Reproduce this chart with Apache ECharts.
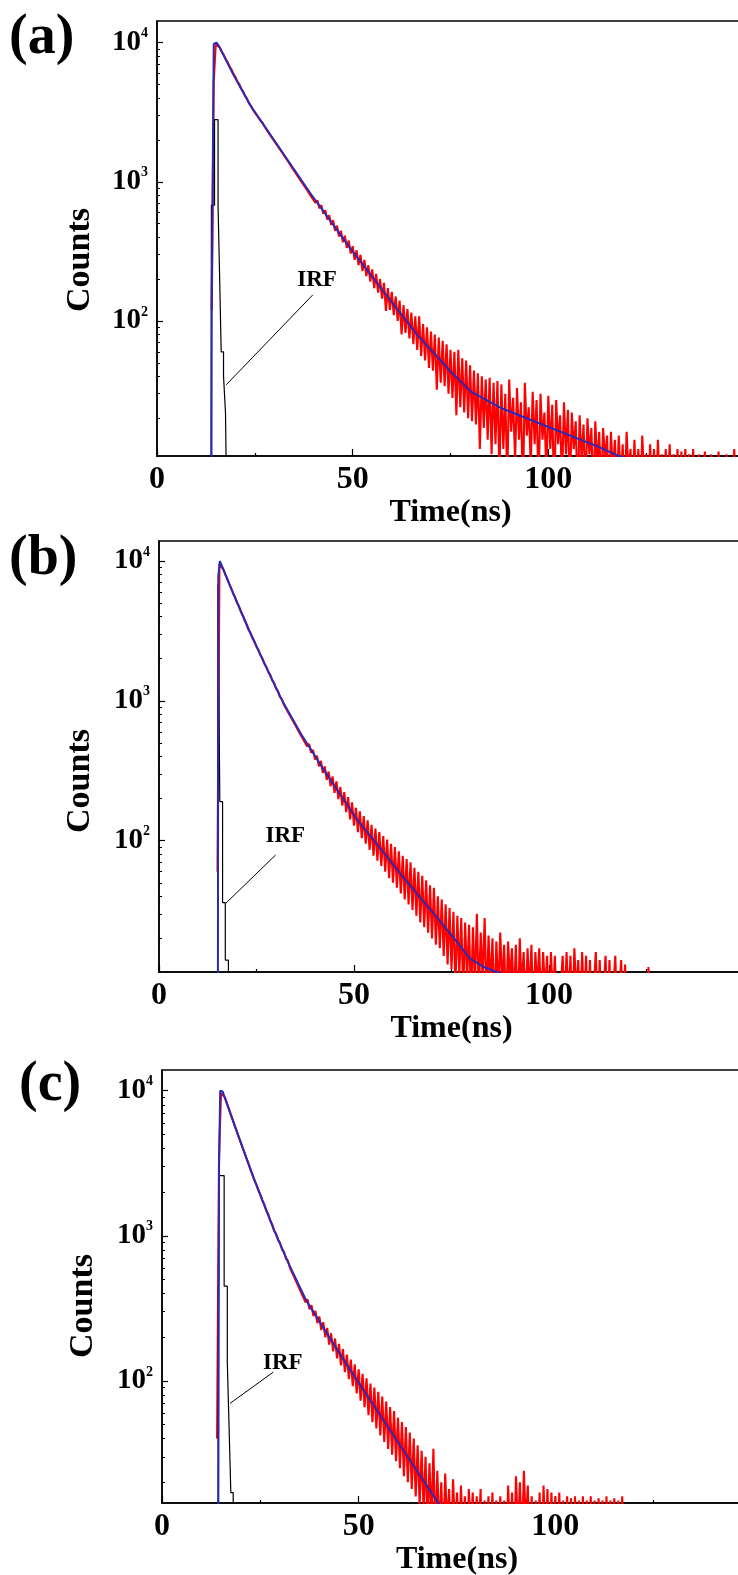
<!DOCTYPE html>
<html>
<head>
<meta charset="utf-8">
<script src="https://cdn.jsdelivr.net/npm/echarts@6/dist/echarts.min.js"></script>
<style>
html,body{margin:0;padding:0;background:#fff;}
#chart{width:738px;height:1575px;}
</style>
</head>
<body>
<div id="chart"></div>
<script>
// ---------------- data ----------------
const panelLabels = ['(a)', '(b)', '(c)'];
const xAxisTitle = 'Time(ns)';
const yAxisTitle = 'Counts';
const irfText = 'IRF';
const xLabelValues = [0, 50, 100];
const yMajorTicks = [100, 1000, 10000];
const yMinorTicks = [20, 30, 40, 50, 60, 70, 80, 90, 200, 300, 400, 500, 600, 700, 800, 900,
                     2000, 3000, 4000, 5000, 6000, 7000, 8000, 9000];

// measured decay (red): one value per 0.5 ns channel
const redStep = 0.5;
const redStartA = 14.0;
const redA = [
  120, 5200, 9700, 9900, 9300, 8650, 8240, 7680, 7300, 6790,   // 14.0
  6450, 6010, 5700, 5300, 5050, 4690, 4470, 4150, 3960, 3680,  // 19.0
  3530, 3300, 3210, 3010, 2920, 2740, 2650, 2490, 2420, 2260,  // 24.0
  2200, 2050, 2000, 1870, 1825, 1700, 1660, 1540, 1510, 1400,  // 29.0
  1380, 1265, 1260, 1150, 1150, 1040, 1050, 945, 955, 860,     // 34.0
  875, 775, 800, 705, 735, 645, 680, 590, 625, 535,            // 39.0
  575, 490, 530, 445, 485, 405, 445, 368, 410, 335,            // 44.0
  378, 305, 345, 275, 322, 252, 298, 228, 275, 210,            // 49.0
  252, 192, 235, 172, 218, 160, 200, 145, 188, 118,            // 54.0
  172, 120, 162, 110, 150, 100, 140, 80, 130, 82,              // 59.0
  122, 75, 115, 68, 108, 62, 108, 56, 95, 52,                  // 64.0
  90, 46, 84, 44, 80, 32, 76, 36, 72, 34,                      // 69.0
  68, 30, 62, 28, 60, 21, 62, 24, 54, 22,                      // 74.0
  52, 20, 48, 19, 44, 18, 42, 12, 40, 17,                      // 79.0
  38, 14, 39, 11, 36, 13, 37, 8, 35, 12,                       // 84.0
  30, 7, 38, 16, 28, 10, 33, 14, 26, 6,                        // 89.0
  36, 15, 24, 9, 31, 13, 27, 6, 30, 14,                        // 94.0
  22, 8, 29, 12, 25, 5, 27, 13, 21, 7,                         // 99.0
  26, 11, 23, 6, 22, 12, 19, 5, 21, 10,                        // 104.0
  18, 6, 20, 11, 17, 5, 19, 9, 16, 6,                          // 109.0
  17, 10, 15, 5, 16, 8, 14, 6, 15, 7,                          // 114.0
  13, 5, 16, 8, 12, 5, 14, 6, 12, 5,                           // 119.0
  15, 7, 11, 5, 13, 6, 12, 5, 14, 6,                           // 124.0
  11, 5, 12, 5, 13, 6, 11, 5, 12, 5,                           // 129.0
  11.5, 5, 12, 5, 11, 5, 12, 5, 5, 11,                         // 134.0
  5, 5, 11.5, 5, 5, 11, 5, 5, 5, 11.5,                         // 139.0
  5, 5, 5, 11, 5, 5, 5, 12, 5                                  // 144.0
];
const redStartB = 15.0;
const redB = [
  60, 9500, 9350, 8720, 8010, 7480, 6860, 6400, 5860, 5500,    // 15.0
  5040, 4740, 4340, 4080, 3740, 3510, 3215, 3040, 2800, 2650,  // 20.0
  2435, 2310, 2120, 2015, 1845, 1760, 1610, 1538, 1405, 1345,  // 25.0
  1225, 1178, 1068, 1030, 940, 920, 838, 822, 748, 735,        // 30.0
  665, 660, 592, 590, 530, 540, 472, 492, 425, 446,            // 35.0
  380, 405, 340, 372, 305, 340, 272, 312, 245, 288,            // 40.0
  220, 265, 198, 242, 178, 222, 160, 205, 142, 188,            // 45.0
  128, 172, 115, 162, 104, 150, 95, 140, 86, 130,              // 50.0
  78, 122, 72, 115, 66, 108, 60, 102, 54, 95,                  // 55.0
  50, 90, 46, 84, 42, 78, 38, 74, 35, 70,                      // 60.0
  32, 64, 29, 60, 26, 56, 24, 52, 22, 48,                      // 65.0
  20, 46, 18, 40, 17, 38, 15, 35, 13, 33,                      // 70.0
  12, 31, 9, 29, 11, 28, 8, 26, 10, 25,                        // 75.0
  7, 24, 9, 30, 8, 22, 10, 28, 7, 21,                          // 80.0
  9, 20, 6, 19, 8, 22, 9, 18, 6, 19,                           // 85.0
  10, 17, 7, 18, 5, 20, 9, 16, 6, 17,                          // 90.0
  8, 18, 5, 16, 9, 17, 6, 16, 8, 15,                           // 95.0
  5, 16, 7, 15, 6, 5, 5, 15, 6, 16,                            // 100.0
  7, 15, 5, 17, 8, 14, 5, 16, 6, 15,                           // 105.0
  5, 14, 5, 5, 16, 5, 14, 5, 5, 15,                            // 110.0
  5, 14, 5, 5, 15, 5, 5, 14, 5, 13,                            // 115.0
  5, 5, 5, 5, 5, 5, 5, 5, 5, 5,                                // 120.0
  5, 12.5, 5                                                   // 125.0
];
const redStartC = 14.0;
const redC = [
  40, 3500, 9600, 9800, 9000, 8180, 7540, 6850, 6300, 5720,    // 14.0
  5270, 4800, 4430, 4040, 3730, 3400, 3140, 2860, 2640, 2415,  // 19.0
  2255, 2060, 1925, 1755, 1645, 1495, 1405, 1275, 1200, 1085,  // 24.0
  1032, 938, 895, 808, 776, 698, 674, 605, 592, 528,           // 29.0
  522, 460, 460, 400, 405, 348, 365, 312, 332, 280,            // 34.0
  304, 250, 278, 224, 254, 200, 232, 178, 213, 160,            // 39.0
  196, 143, 180, 128, 166, 115, 152, 103, 140, 92,             // 44.0
  130, 82, 120, 73, 112, 66, 104, 58, 96, 52,                  // 49.0
  90, 47, 84, 42, 78, 38, 72, 34, 66, 31,                      // 54.0
  62, 28, 56, 25, 52, 22, 48, 20, 44, 18,                      // 59.0
  40, 16, 36, 14, 33, 13, 30, 10, 27, 11,                      // 64.0
  34, 8, 24, 9, 20, 7, 23, 10, 18, 6,                          // 69.0
  21, 9, 17, 6, 19, 8, 16, 5, 18, 9,                           // 74.0
  17, 6, 16, 8, 18, 5, 15, 7, 16, 5,                           // 79.0
  17, 6, 15, 5, 16, 7, 15, 5, 19, 8,                           // 84.0
  17, 6, 22, 9, 20, 7, 24, 10, 19, 6,                          // 89.0
  16, 5, 15, 6, 17, 5, 19, 7, 18, 6,                           // 94.0
  17, 8, 16, 5, 17, 6, 15, 5, 16, 7,                           // 99.0
  15.5, 5, 16, 6, 15, 5, 16, 5, 15, 6,                         // 104.0
  16, 5, 15, 5, 15.5, 6, 15, 5, 16, 5,                         // 109.0
  15, 6, 15.5, 5, 15, 5, 16, 5                                 // 114.0
];

// fitted decay (blue): [time ns, counts]
const fitA = [[13.9, 5], [14.0, 150], [14.5, 9800], [15.2, 10000], [15.7, 9620], [19.5, 5900],
  [23.8, 3565], [39.15, 832], [49.4, 333], [57.9, 163], [66.5, 79.4], [75.05, 43.3], [80.2, 31.1],
  [87.9, 23.7], [100.7, 17.0], [112.7, 12.5], [118, 10.7], [124, 9.5]];
const fitB = [[15.1, 5], [15.2, 7800], [15.6, 10000], [19, 5890], [23, 3236], [27, 1862],
  [31.6, 1000], [36.5, 575], [42, 329], [46.5, 214], [50.6, 144], [57.4, 83.4], [62.5, 55.2],
  [71.1, 28.6], [76, 19.5], [79.7, 14.4], [83, 12.6], [86.5, 11.5], [92, 10]];
const fitC = [[14.3, 5], [14.5, 3000], [14.8, 10000], [15.4, 9900], [19, 5250], [23, 2630],
  [28.5, 1096], [32, 661], [36.6, 361], [43, 191], [49.7, 100], [60, 37.8], [70.1, 14.6], [74, 10]];

// instrument response (black), histogram steps: [bin start ns, counts]
const irfA = [[13.8, 3], [13.9, 680], [14.7, 2800], [15.6, 680], [16.0, 210], [16.4, 60],
  [17.0, 40], [17.5, 22], [17.9, 3]];
const irfB = [[15.0, 3], [15.1, 6800], [15.6, 190], [16.3, 36], [17.0, 14], [17.8, 3]];
const irfC = [[14.2, 3], [14.4, 2600], [15.8, 450], [16.6, 135], [17.1, 43], [17.5, 17], [18.1, 3]];

// ---------------- layout ----------------
const FONT = '"Liberation Serif", "Times New Roman", serif';
const panels = [
  {red: redA, redStart: redStartA, fit: fitA, irf: irfA,
   grid: {left: 157, top: 21, width: 587, height: 435}, yMin: 10.7, yMax: 14330, nameGap: 37,
   labelPos: [9, 11], countsPos: [80, 260],
   irfTextAt: [40.9, 197], arrowFrom: [39.8, 154], arrowTo: [17.7, 34.8]},
  {red: redB, redStart: redStartB, fit: fitB, irf: irfB,
   grid: {left: 159, top: 541, width: 585, height: 431}, yMin: 11.5, yMax: 13900, nameGap: 36,
   labelPos: [9, 532], countsPos: [80, 781],
   irfTextAt: [32.4, 108], arrowFrom: [29.9, 79], arrowTo: [17.1, 35.6]},
  {red: redC, redStart: redStartC, fit: fitC, irf: irfC,
   grid: {left: 162, top: 1070, width: 590, height: 433}, yMin: 14.4, yMax: 13900, nameGap: 41,
   labelPos: [19, 1058], countsPos: [83, 1306],
   irfTextAt: [30.7, 132], arrowFrom: [28.3, 115], arrowTo: [17.3, 70]}
];

const grids = [], xAxes = [], yAxes = [], series = [], graphics = [];
panels.forEach((p, i) => {
  grids.push(Object.assign({show: true, borderColor: '#000', borderWidth: 1.5,
    backgroundColor: 'transparent', containLabel: false, outerBoundsMode: 'none'}, p.grid));
  xAxes.push({
    type: 'value', gridIndex: i, min: 0, max: 150, interval: 50,
    name: xAxisTitle, nameLocation: 'middle', nameGap: p.nameGap,
    nameTextStyle: {fontFamily: FONT, fontWeight: 'bold', fontSize: 32, color: '#000'},
    axisLine: {onZero: false, lineStyle: {color: '#000', width: 1.5}},
    axisTick: {inside: true, length: 7, lineStyle: {color: '#000', width: 1.2}},
    minorTick: {show: true, splitNumber: 2, length: 3, lineStyle: {color: '#000', width: 1.2}},
    axisLabel: {customValues: xLabelValues, margin: 8, fontFamily: FONT, fontWeight: 'bold',
      fontSize: 32, color: '#000'},
    splitLine: {show: false}
  });
  yAxes.push({
    type: 'log', logBase: 10, gridIndex: i, min: p.yMin, max: p.yMax, position: 'left',
    axisLine: {show: true, onZero: false, lineStyle: {color: '#000', width: 1.5}},
    axisTick: {inside: true, length: 6, customValues: yMajorTicks, lineStyle: {color: '#000', width: 1.2}},
    axisLabel: {
      customValues: yMajorTicks, margin: 9,
      formatter: v => '{b|10}{s|' + Math.round(Math.log10(v)) + '}',
      rich: {
        b: {fontFamily: FONT, fontWeight: 'bold', fontSize: 29, color: '#000', lineHeight: 32},
        s: {fontFamily: FONT, fontWeight: 'bold', fontSize: 14, color: '#000', verticalAlign: 'top', lineHeight: 20}
      }
    },
    splitLine: {show: false}
  });
  yAxes.push({
    type: 'log', logBase: 10, gridIndex: i, min: p.yMin, max: p.yMax, position: 'left',
    axisLine: {show: false},
    axisTick: {inside: true, length: 3, customValues: yMinorTicks, lineStyle: {color: '#000', width: 1}},
    axisLabel: {show: false},
    splitLine: {show: false}
  });
  series.push({
    type: 'line', xAxisIndex: i, yAxisIndex: 2 * i, showSymbol: false, symbol: 'none',
    data: p.red.map((v, k) => [p.redStart + k * redStep, v]),
    lineStyle: {color: '#ff0000', width: 2.1, join: 'bevel'}, z: 2, silent: true
  });
  series.push({
    type: 'line', xAxisIndex: i, yAxisIndex: 2 * i, showSymbol: false, symbol: 'none', step: 'end',
    data: p.irf, lineStyle: {color: '#000', width: 1.2}, z: 3, silent: true,
    markLine: {silent: true, symbol: ['none', 'arrow'], symbolSize: [0, 9], animation: false,
      lineStyle: {color: '#000', width: 1, type: 'solid'}, label: {show: false},
      data: [[{coord: p.arrowFrom}, {coord: p.arrowTo}]]},
    markPoint: {silent: true, symbol: 'circle', symbolSize: 1, animation: false,
      itemStyle: {color: 'rgba(0,0,0,0)'},
      label: {show: true, position: 'inside', formatter: irfText, fontFamily: FONT,
        fontWeight: 'bold', fontSize: 23, color: '#000'},
      data: [{coord: p.irfTextAt}]}
  });
  series.push({
    type: 'line', xAxisIndex: i, yAxisIndex: 2 * i, showSymbol: false, symbol: 'none',
    data: p.fit, lineStyle: {color: '#2a2ab8', width: 2}, z: 4, silent: true
  });
  graphics.push({type: 'text', left: p.labelPos[0], top: p.labelPos[1],
    style: {text: panelLabels[i], font: 'bold 56px ' + FONT, fill: '#000'}});
  graphics.push({type: 'text', x: p.countsPos[0], y: p.countsPos[1], rotation: Math.PI / 2,
    style: {text: yAxisTitle, font: 'bold 34px ' + FONT, fill: '#000',
      align: 'center', verticalAlign: 'middle', textAlign: 'center', textVerticalAlign: 'middle'}});
});

const chart = echarts.init(document.getElementById('chart'), null, {renderer: 'canvas'});
chart.setOption({
  animation: false,
  backgroundColor: '#fff',
  grid: grids, xAxis: xAxes, yAxis: yAxes, series: series, graphic: graphics
});
</script>
</body>
</html>
